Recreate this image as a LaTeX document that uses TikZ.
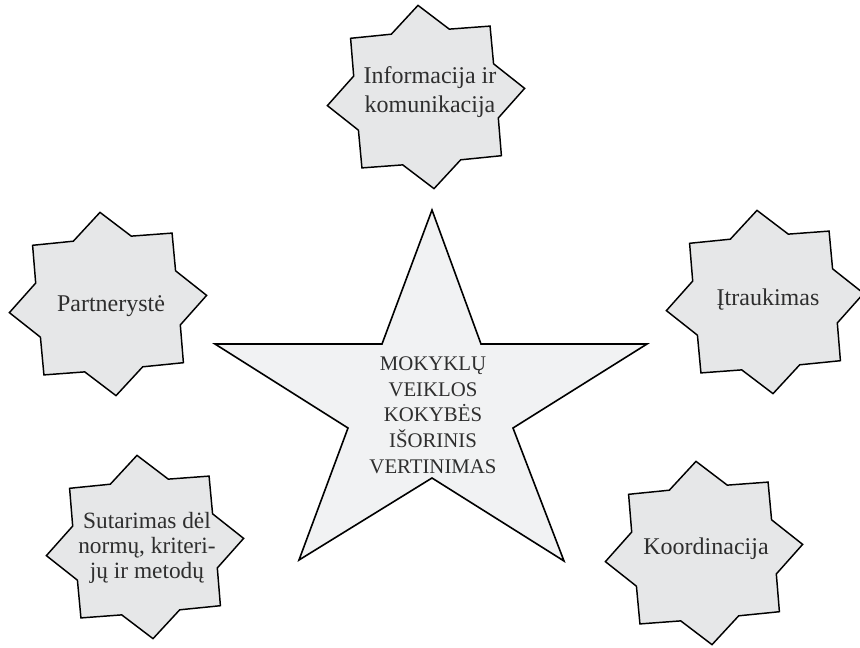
\documentclass[tikz,border=0pt]{standalone}
\usepackage{fontspec}
\setmainfont{Liberation Serif}
\definecolor{burstfill}{HTML}{E6E7E8}
\definecolor{starfill}{HTML}{F1F2F3}
\definecolor{txt}{HTML}{2E2E2E}
\tikzset{
  burst/.style={draw=black, line width=1.1pt, fill=burstfill, line join=miter},
  mainstar/.style={draw=black, line width=1.2pt, fill=starfill, line join=miter},
  btext/.style={text=txt, align=center, inner sep=0pt, font=\fontsize{18}{21.5}\selectfont},
  ctext/.style={text=txt, align=center, inner sep=0pt, font=\fontsize{15.6}{19.3}\selectfont},
}
\newcommand\burstshape[1]{%
  \begin{scope}[shift={#1}, rotate=5]
    \draw[burst] (0:99 and 92) \foreach \k in {1,...,7}{ -- (\k*45-22.5:76 and 71) -- (\k*45:99 and 92)} -- (337.5:76 and 71) -- cycle;
  \end{scope}}
\begin{document}
\begin{tikzpicture}[x=0.75pt, y=-0.75pt]
  \useasboundingbox (0,0) rectangle (860,647);
  % starbursts
  \burstshape{(426,97)}
  \burstshape{(108,304)}
  \burstshape{(765,302)}
  \burstshape{(145,547)}
  \burstshape{(704,553)}
  % central star
  \coordinate (s1) at (432,210);
  \coordinate (s2) at (481,344);
  \coordinate (s3) at (647,344);
  \coordinate (s4) at (513,428);
  \coordinate (s5) at (564,561);
  \coordinate (s6) at (432,478);
  \coordinate (s7) at (299,560);
  \coordinate (s8) at (348,428);
  \coordinate (s9) at (215,344);
  \coordinate (s10) at (382,344);
  \draw[mainstar] (s1) -- (s2) -- (s3) -- (s4) -- (s5) -- (s6) -- (s7) -- (s8) -- (s9) -- (s10) -- cycle;
  % texts
  \node[ctext] (center) at (433,415) {MOKYKLŲ\\VEIKLOS\\KOKYBĖS\\IŠORINIS\\VERTINIMAS};
  \node[btext] (info) at (430,92) {Informacija ir\\komunikacija};
  \node[btext] (partn) at (111,306) {Partnerystė};
  \node[btext] (itrauk) at (768,300) {Įtraukimas};
  \node[btext, font=\fontsize{17.5}{19}\selectfont] (sutar) at (147,548) {Sutarimas dėl\\normų, kriteri-\\jų ir metodų};
  \node[btext] (koord) at (706,549) {Koordinacija};
\end{tikzpicture}
\end{document}
